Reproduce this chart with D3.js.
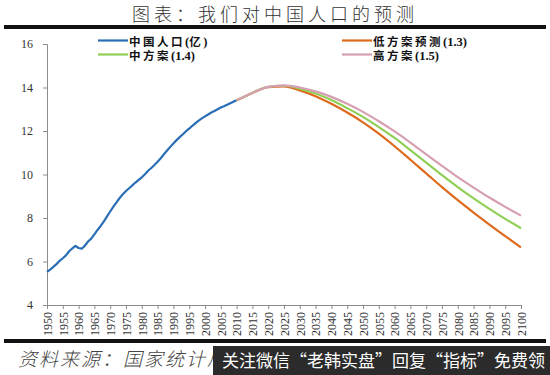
<!DOCTYPE html>
<html>
<head>
<meta charset="utf-8">
<script src="https://cdn.jsdelivr.net/npm/d3@7"></script>
<style>
body { margin: 0; background: #fff; }
</style>
</head>
<body>
<svg class="chart" width="550" height="375"></svg>
<script>
// 历史人口（亿），1950 年起逐年
const histStart = 1950;
const histValues = [
    5.52, 5.63, 5.75, 5.88, 6.03, 6.15, 6.28, 6.47, 6.60, 6.72,
    6.62, 6.59, 6.73, 6.92, 7.05, 7.25, 7.45, 7.64, 7.85, 8.07,
    8.30, 8.52, 8.72, 8.92, 9.09, 9.24, 9.37, 9.50, 9.63, 9.75,
    9.87, 10.01, 10.17, 10.30, 10.44, 10.59, 10.75, 10.93, 11.10, 11.27,
    11.43, 11.58, 11.72, 11.85, 11.99, 12.11, 12.24, 12.36, 12.48, 12.58,
    12.67, 12.76, 12.85, 12.92, 13.00, 13.08, 13.14, 13.21, 13.28, 13.35,
    13.41
];

// 预测（每 5 年）
const projYears = [2010, 2015, 2020, 2025, 2030, 2035, 2040, 2045, 2050, 2055,
    2060, 2065, 2070, 2075, 2080, 2085, 2090, 2095, 2100];
const lowValues = [13.41, 13.75, 14.02, 14.05, 13.87, 13.60, 13.25, 12.85, 12.40, 11.88,
    11.30, 10.68, 10.05, 9.42, 8.82, 8.25, 7.70, 7.17, 6.65];
const midValues = [13.41, 13.75, 14.03, 14.08, 13.95, 13.72, 13.42, 13.05, 12.65, 12.18,
    11.68, 11.12, 10.55, 9.97, 9.42, 8.90, 8.42, 7.96, 7.53];
const highValues = [13.41, 13.75, 14.03, 14.10, 14.00, 13.82, 13.57, 13.25, 12.88, 12.45,
    11.98, 11.47, 10.93, 10.40, 9.88, 9.40, 8.94, 8.51, 8.11];

const yTicks = [4, 6, 8, 10, 12, 14, 16];
const xTicks = [1950, 1955, 1960, 1965, 1970, 1975, 1980, 1985, 1990, 1995, 2000,
    2005, 2010, 2015, 2020, 2025, 2030, 2035, 2040, 2045, 2050, 2055, 2060,
    2065, 2070, 2075, 2080, 2085, 2090, 2095, 2100];

const chart = d3.select('.chart');
const width = +chart.attr('width');
const height = +chart.attr('height');

const serif = '"Liberation Serif", "Times New Roman", "Noto Sans CJK SC", serif';

const xScale = d3.scaleLinear().domain([1950, 2100]).range([47, 521]);
const yScale = d3.scaleLinear().domain([4, 16]).range([305, 44]);

// 标题与分隔线
chart.append('text')
    .attr('x', width / 2).attr('y', 21)
    .attr('text-anchor', 'middle')
    .attr('font-family', '"Noto Sans CJK SC", sans-serif')
    .attr('font-weight', 300)
    .attr('font-size', 18)
    .attr('letter-spacing', 4)
    .attr('fill', '#333')
    .text('图表：我们对中国人口的预测');

chart.append('rect').attr('x', 4).attr('y', 25).attr('width', 542).attr('height', 4).attr('fill', '#111');
chart.append('rect').attr('x', 4).attr('y', 339).attr('width', 542).attr('height', 4).attr('fill', '#111');

// 坐标轴
const yAxis = chart.append('g')
    .attr('transform', `translate(${xScale(1950)},0)`)
    .call(d3.axisLeft(yScale).tickValues(yTicks).tickSize(4).tickPadding(10));
const xAxis = chart.append('g')
    .attr('transform', `translate(0,${yScale(4)})`)
    .call(d3.axisBottom(xScale).tickValues(xTicks).tickFormat(d3.format('d')).tickSize(4));

[yAxis, xAxis].forEach(a => {
    a.select('.domain').attr('stroke', '#8c8c8c');
    a.selectAll('.tick line').attr('stroke', '#8c8c8c');
    a.selectAll('text')
        .attr('font-family', serif)
        .attr('font-size', 12)
        .attr('fill', '#333');
});

xAxis.selectAll('.tick text')
    .attr('transform', 'rotate(-90)')
    .attr('text-anchor', 'end')
    .attr('x', -7)
    .attr('y', 0)
    .attr('dy', '0.35em');

// 曲线
const line = d3.line()
    .x(d => xScale(d.year))
    .y(d => yScale(d.value));

const hist = histValues.map((v, i) => ({ year: histStart + i, value: v }));
const proj = vals => vals.map((v, i) => ({ year: projYears[i], value: v }));

const series = [
    { name: '中国人口(亿)', color: '#2a6eb5', data: hist, curve: d3.curveLinear },
    { name: '低方案预测(1.3)', color: '#de6a1c', data: proj(lowValues), curve: d3.curveMonotoneX },
    { name: '中方案(1.4)', color: '#8fcf55', data: proj(midValues), curve: d3.curveMonotoneX },
    { name: '高方案(1.5)', color: '#d6a0b2', data: proj(highValues), curve: d3.curveMonotoneX }
];

chart.append('g').selectAll('path').data(series)
    .enter().append('path')
    .attr('d', d => line.curve(d.curve)(d.data))
    .attr('fill', 'none')
    .attr('stroke', d => d.color)
    .attr('stroke-width', 2.2)
    .attr('stroke-linejoin', 'round');

// 图例：中文与西文分开排
const legendPos = [
    { x: 98, y: 40.5 }, { x: 342, y: 40.5 }, { x: 98, y: 54.5 }, { x: 342, y: 54.5 }
];
const isCJK = s => /[^\x00-\xff]/.test(s);
const legend = chart.append('g').selectAll('g').data(series)
    .enter().append('g')
    .attr('transform', (d, i) => `translate(${legendPos[i].x},${legendPos[i].y})`);
legend.append('line')
    .attr('x1', 0).attr('x2', 30)
    .attr('stroke', d => d.color)
    .attr('stroke-width', 2.2);
legend.append('text')
    .attr('x', 31).attr('dy', '0.36em')
    .attr('font-family', serif)
    .attr('font-weight', 'bold')
    .attr('fill', '#111')
    .selectAll('tspan')
    .data(d => d.name.match(/[^\x00-\xff]+|[\x00-\xff]+/g))
    .enter().append('tspan')
    .attr('font-size', s => isCJK(s) ? 11.5 : 12.5)
    .attr('letter-spacing', s => isCJK(s) ? 2.5 : 0)
    .text(s => s);

// 资料来源
chart.append('text')
    .attr('x', 18).attr('y', 366)
    .attr('font-family', '"Noto Sans CJK SC", sans-serif')
    .attr('font-weight', 300)
    .attr('font-style', 'italic')
    .attr('font-size', 19)
    .attr('letter-spacing', 2)
    .attr('fill', '#444')
    .text('资料来源：国家统计局');

// 水印条
chart.append('rect').attr('x', 213).attr('y', 346).attr('width', 337).attr('height', 29).attr('fill', '#2b2b2b');
chart.append('text')
    .attr('x', 222).attr('y', 367)
    .attr('font-family', '"Noto Sans CJK SC", sans-serif')
    .attr('font-size', 17)
    .attr('fill', '#fff')
    .text('关注微信“老韩实盘”回复“指标”免费领');
</script>
</body>
</html>
